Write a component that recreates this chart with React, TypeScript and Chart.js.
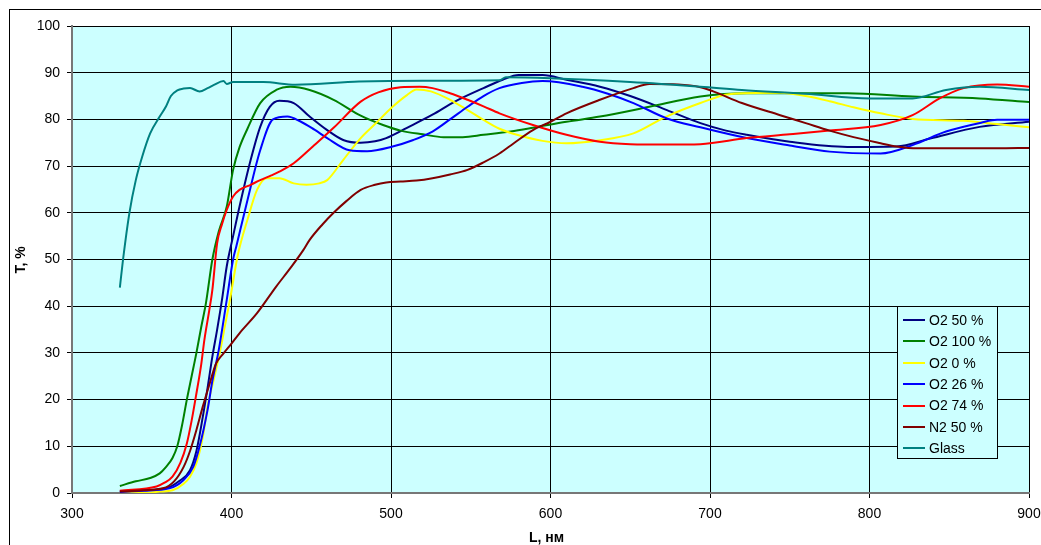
import React, { useEffect, useRef } from "react";
import { Chart, registerables } from "chart.js";

Chart.register(...registerables);

const FONT = "'Liberation Sans', Arial, Helvetica, sans-serif";

const xTicks = [300, 400, 500, 600, 700, 800, 900];
const yTicks = [0, 10, 20, 30, 40, 50, 60, 70, 80, 90, 100];

const seriesNames = ["O2 50 %", "O2 100 %", "O2 0 %", "O2 26 %", "O2 74 %", "N2 50 %", "Glass"];
const seriesColors = ["#000080", "#008000", "#FFFF00", "#0000FF", "#FF0000", "#800000", "#008080"];

const o2_50_L = [330, 345, 359, 367, 374, 378, 382, 385, 388, 391, 394, 397, 401, 405, 412, 418, 424, 430, 439, 449, 460, 470, 481, 490, 497, 510, 526, 540, 558, 570, 580, 595, 610, 631, 650, 673, 694, 710, 723, 750, 786, 817, 838, 869, 900];
const o2_50_T = [0.3, 0.6, 1, 2.5, 4.9, 9, 16.3, 22.5, 29.2, 35, 41.3, 48.5, 55, 61.3, 71.3, 78.4, 82.7, 84, 83.5, 80.6, 77.7, 75.6, 75, 75.3, 76, 78.2, 81, 83.8, 86.7, 88.5, 89.5, 89.5, 88.5, 87, 85, 82, 79.2, 77.6, 76.7, 75.2, 74.1, 74.2, 75.9, 78.4, 79.5];

const o2_100_L = [330, 340, 349, 355, 359, 363, 366, 369, 372, 375, 378, 381, 384, 388, 392, 397, 401, 405, 410, 418, 428, 437, 449, 464, 481, 495, 506, 520, 533, 545, 558, 575, 589, 610, 631, 662, 694, 723, 786, 827, 869, 900];
const o2_100_T = [1.5, 2.5, 3.2, 4.2, 5.6, 7.5, 10, 14.5, 20, 25, 30, 35.5, 40.7, 50, 56, 61.3, 69.2, 74, 78, 83.5, 86.3, 87, 86.3, 84.2, 80.8, 78.8, 77.6, 76.8, 76.2, 76.2, 76.7, 77.4, 78.2, 79.5, 80.6, 82.7, 84.9, 85.6, 85.6, 84.9, 84.5, 83.7];

const o2_0_L = [330, 342, 355, 363, 370, 374, 378, 382, 385, 389, 393, 396, 399, 404, 410, 416, 422, 430, 439, 447, 455, 460, 470, 481, 490, 501, 510, 516, 525, 537, 548, 558, 568, 579, 595, 610, 630, 652, 672, 694, 712, 744, 760, 775, 790, 807, 827, 859, 880, 900];
const o2_0_T = [0, 0, 0.3, 0.6, 2, 3.5, 6.4, 12, 18.5, 24.5, 30.6, 36, 41.3, 51, 58.5, 64.9, 67.4, 67.4, 66.3, 66, 66.3, 67, 71.3, 76, 79, 82.7, 85.2, 86.4, 86, 84.2, 82, 79.9, 78, 76.7, 75.4, 74.9, 75.5, 77, 80.5, 83.5, 85.4, 85.7, 85, 83.9, 82.6, 81.3, 80.1, 79.7, 79, 78.3];

const o2_26_L = [330, 345, 361, 370, 376, 380, 385, 388, 392, 397, 401, 403, 410, 418, 426, 435, 443, 452, 460, 474, 485, 501, 514, 526, 537, 548, 558, 568, 582, 595, 620, 636, 652, 673, 694, 723, 750, 775, 807, 827, 848, 870, 880, 900];
const o2_26_T = [0.2, 0.5, 1, 2.8, 5.6, 10, 17.8, 24, 30.6, 41.3, 50, 52.8, 62.7, 73.4, 80, 80.6, 79.6, 77.8, 76, 73.4, 73.2, 74.2, 75.6, 77.4, 80, 82.7, 85, 86.7, 87.8, 88.2, 87, 85.5, 83.5, 80.2, 78.3, 76, 74.4, 73.1, 72.7, 74.5, 77.4, 79.3, 79.9, 79.9];

const o2_74_L = [330, 353, 358, 363, 368, 372, 375, 378, 381, 383, 386, 388, 391, 394, 397, 401, 405, 412, 418, 425, 430, 439, 451, 464, 481, 492, 506, 518, 526, 537, 548, 558, 568, 589, 610, 631, 650, 673, 694, 723, 750, 775, 807, 827, 844, 859, 880, 900];
const o2_74_T = [0.5, 1.4, 2.2, 3.5, 6.5, 10.6, 15.5, 21.3, 27.5, 32.8, 39, 43.5, 53.5, 57.5, 60.6, 63.5, 64.9, 66, 67, 68, 68.8, 70.6, 74.2, 78.2, 83.8, 85.8, 86.9, 87, 86.7, 85.6, 84.2, 82.8, 81.3, 78.8, 76.7, 75.2, 74.7, 74.6, 74.7, 76, 76.8, 77.6, 78.8, 80.9, 84.5, 86.7, 87.5, 87];

const n2_50_L = [330, 345, 357, 364, 370, 374, 378, 382, 387, 390, 395, 400, 405, 416, 428, 437, 445, 449, 457, 464, 472, 481, 490, 497, 506, 516, 526, 537, 548, 558, 568, 577, 589, 600, 610, 631, 652, 662, 680, 694, 702, 720, 744, 760, 775, 790, 807, 817, 830, 848, 880, 900];
const n2_50_T = [0.3, 0.6, 1, 2.5, 5.6, 9, 13.5, 18.5, 24.2, 27.5, 29.9, 32, 34.2, 38.5, 44.2, 48.2, 52, 54.2, 57.5, 60, 62.5, 64.9, 66, 66.5, 66.7, 66.9, 67.4, 68.2, 69.2, 70.8, 72.7, 74.9, 77.7, 79.5, 81.3, 84.2, 86.7, 87.6, 87.5, 86.9, 86, 83.5, 80.9, 79.2, 77.6, 76.2, 74.9, 74.2, 73.8, 73.8, 73.8, 73.9];

const glass_L = [330, 332, 336, 340, 344, 349, 355, 359, 362, 366, 370, 374, 380, 385, 389, 395, 397, 401, 420, 440, 480, 520, 568, 572, 600, 650, 694, 720, 760, 800, 827, 848, 869, 900];
const glass_T = [44, 50, 60, 67, 72, 77, 80.6, 82.8, 85, 86.2, 86.6, 86.7, 86, 86.7, 87.4, 88.2, 87.6, 88, 88, 87.4, 88.1, 88.3, 88.4, 89, 88.8, 88, 87, 86.3, 85.5, 84.5, 84.5, 86.3, 87, 86.3];

const seriesL = [o2_50_L, o2_100_L, o2_0_L, o2_26_L, o2_74_L, n2_50_L, glass_L];
const seriesT = [o2_50_T, o2_100_T, o2_0_T, o2_26_T, o2_74_T, n2_50_T, glass_T];

const PLOT_BG = "#CCFFFF";

const decorPlugin = {
  id: "decor",
  beforeDraw(chart: any) {
    const { ctx, chartArea } = chart;
    ctx.save();
    ctx.fillStyle = "#FFFFFF";
    ctx.fillRect(0, 0, chart.width, chart.height);
    ctx.fillStyle = PLOT_BG;
    ctx.fillRect(chartArea.left, chartArea.top, chartArea.right - chartArea.left, chartArea.bottom - chartArea.top);
    ctx.restore();
  },
  afterDraw(chart: any) {
    const { ctx, chartArea } = chart;
    ctx.save();
    // outer frame
    ctx.strokeStyle = "#000";
    ctx.lineWidth = 1;
    ctx.strokeRect(9.5, 9.5, chart.width + 40, chart.height + 40);

    // axis titles
    ctx.fillStyle = "#000";
    ctx.font = `bold 14px ${FONT}`;
    ctx.textAlign = "center";
    ctx.textBaseline = "middle";
    ctx.fillText("L, нм", (chartArea.left + chartArea.right) / 2 - 4, 538);
    ctx.save();
    ctx.translate(21, 260);
    ctx.rotate(-Math.PI / 2);
    ctx.fillText("T, %", 0, 0);
    ctx.restore();

    // legend
    const lx = 897, ly = 306, lw = 100, lh = 152;
    ctx.fillStyle = PLOT_BG;
    ctx.fillRect(lx, ly, lw, lh);
    ctx.strokeStyle = "#000";
    ctx.lineWidth = 1;
    ctx.strokeRect(lx + 0.5, ly + 0.5, lw, lh);
    ctx.font = `14px ${FONT}`;
    ctx.textAlign = "left";
    ctx.textBaseline = "middle";
    chart.data.datasets.forEach((ds: any, i: number) => {
      const y = 320 + i * 21.4;
      ctx.strokeStyle = ds.borderColor;
      ctx.lineWidth = 2;
      ctx.beginPath();
      ctx.moveTo(903, Math.round(y));
      ctx.lineTo(925, Math.round(y));
      ctx.stroke();
      ctx.fillStyle = "#000";
      ctx.fillText(ds.label, 929, y + 1);
    });
    ctx.restore();
  },
};

export default function App() {
  const ref = useRef<HTMLCanvasElement | null>(null);
  useEffect(() => {
    if (!ref.current) return;
    const n = seriesNames.length;
    const chart = new Chart(ref.current, {
      type: "line",
      data: {
        datasets: seriesNames.map((name, i) => ({
          label: name,
          data: seriesL[i].map((x, j) => ({ x, y: seriesT[i][j] })),
          borderColor: seriesColors[i],
          backgroundColor: seriesColors[i],
          borderWidth: 2,
          pointRadius: 0,
          fill: false,
          cubicInterpolationMode: "monotone" as const,
          order: n - 1 - i,
        })),
      },
      options: {
        animation: false,
        responsive: false,
        devicePixelRatio: 1,
        layout: { padding: { left: 0, right: 12, top: 26, bottom: 0 } },
        plugins: { legend: { display: false }, tooltip: { enabled: false }, title: { display: false } },
        scales: {
          x: {
            type: "linear",
            min: 300,
            max: 900,
            afterBuildTicks: (s: any) => { s.ticks = xTicks.map((v) => ({ value: v })); },
            afterFit: (s: any) => { s.height = 52; s.paddingLeft = 0; s.paddingRight = 0; },
            ticks: { color: "#000", font: { family: FONT, size: 14 }, padding: 8, maxRotation: 0 },
            grid: { color: "#000", lineWidth: 1, tickLength: 5, tickColor: "#000" },
            border: { color: "#777", width: 2 },
          },
          y: {
            type: "linear",
            min: 0,
            max: 100,
            afterBuildTicks: (s: any) => { s.ticks = yTicks.map((v) => ({ value: v })); },
            afterFit: (s: any) => { s.width = 72; s.paddingTop = 0; s.paddingBottom = 0; },
            ticks: { color: "#000", font: { family: FONT, size: 14 }, padding: 7 },
            grid: { color: "#000", lineWidth: 1, tickLength: 5, tickColor: "#000" },
            border: { color: "#777", width: 2 },
          },
        },
      },
      plugins: [decorPlugin],
    });
    return () => chart.destroy();
  }, []);
  return (
    <canvas
      ref={ref}
      width={1041}
      height={545}
      style={{ position: "fixed", left: 0, top: 0, width: 1041, height: 545, display: "block" }}
    />
  );
}
